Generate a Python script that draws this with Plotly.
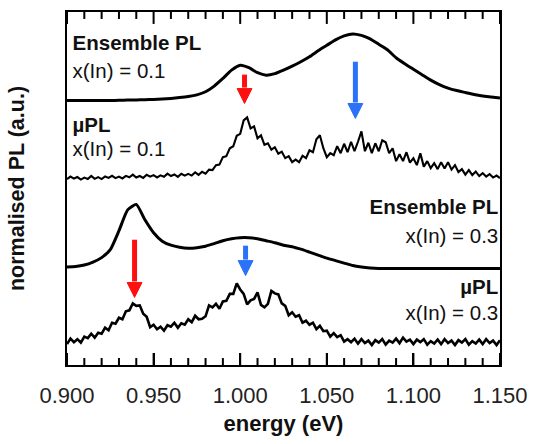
import numpy as np
import plotly.graph_objects as go

# ---------------- data ----------------
# energy grids (eV)
energy_ens = np.round(0.900 + 0.005 * np.arange(51), 3)
energy_mu = np.round(0.900 + 0.002 * np.arange(126), 3)

# Ensemble PL, x(In) = 0.1 (a.u., relative to its baseline)
ens_01 = [0.000, 0.000, 0.000, 0.000, 0.000, 0.000, 0.002, 0.004, 0.006, 0.008,
          0.011, 0.015, 0.021, 0.029, 0.040, 0.057, 0.088, 0.145, 0.222, 0.305,
          0.355, 0.330, 0.280, 0.255, 0.270, 0.305, 0.345, 0.390, 0.440, 0.500,
          0.555, 0.610, 0.650, 0.670, 0.655, 0.620, 0.565, 0.510, 0.430, 0.370,
          0.315, 0.260, 0.205, 0.160, 0.125, 0.100, 0.080, 0.060, 0.045, 0.035,
          0.025]

# Ensemble PL, x(In) = 0.3
ens_03 = [0.015, 0.020, 0.035, 0.065, 0.110, 0.190, 0.380, 0.590, 0.645, 0.490,
          0.360, 0.275, 0.235, 0.215, 0.205, 0.210, 0.225, 0.250, 0.280, 0.300,
          0.310, 0.310, 0.300, 0.280, 0.260, 0.235, 0.220, 0.195, 0.165, 0.135,
          0.105, 0.080, 0.055, 0.030, 0.015, 0.005, 0.000, 0.000, 0.000, 0.000,
          0.000, 0.000, 0.000, 0.000, 0.000, 0.000, 0.000, 0.000, 0.000, 0.000,
          0.000]

# micro-PL, x(In) = 0.1
mu_01 = [-0.010, 0.015, -0.005, 0.010, -0.015, 0.005, -0.010, 0.022, -0.008, 0.009,
         -0.010, 0.016, 0.002, 0.023, -0.001, 0.015, -0.004, 0.022, 0.008, 0.034,
         0.005, 0.021, 0.002, 0.033, 0.014, 0.030, 0.006, 0.027, 0.013, 0.044,
         0.020, 0.036, 0.012, 0.043, 0.025, 0.042, 0.025, 0.058, 0.032, 0.063,
         0.045, 0.085, 0.080, 0.130, 0.135, 0.210, 0.220, 0.300, 0.320, 0.425,
         0.445, 0.580, 0.610, 0.500, 0.520, 0.400, 0.430, 0.335, 0.350, 0.285,
         0.310, 0.245, 0.265, 0.200, 0.220, 0.160, 0.185, 0.160, 0.225, 0.200,
         0.280, 0.260, 0.390, 0.430, 0.300, 0.210, 0.250, 0.230, 0.320, 0.250,
         0.345, 0.260, 0.365, 0.270, 0.365, 0.470, 0.270, 0.355, 0.250, 0.350,
         0.270, 0.380, 0.360, 0.250, 0.300, 0.170, 0.240, 0.170, 0.260, 0.155,
         0.200, 0.130, 0.250, 0.115, 0.170, 0.100, 0.150, 0.090, 0.160, 0.095,
         0.160, 0.085, 0.130, 0.060, 0.090, 0.035, 0.080, 0.030, 0.065, 0.020,
         0.050, 0.015, 0.040, 0.005, 0.025, 0.000]

# micro-PL, x(In) = 0.3
mu_03 = [-0.020, 0.035, 0.000, 0.030, -0.005, 0.055, 0.040, 0.085, 0.045, 0.095,
         0.085, 0.145, 0.120, 0.195, 0.185, 0.245, 0.230, 0.310, 0.320, 0.390,
         0.365, 0.370, 0.285, 0.255, 0.150, 0.175, 0.130, 0.155, 0.115, 0.170,
         0.155, 0.195, 0.145, 0.190, 0.175, 0.230, 0.200, 0.265, 0.230, 0.235,
         0.260, 0.370, 0.350, 0.385, 0.335, 0.410, 0.415, 0.485, 0.485, 0.590,
         0.530, 0.485, 0.380, 0.420, 0.435, 0.500, 0.375, 0.350, 0.385, 0.515,
         0.490, 0.480, 0.390, 0.365, 0.270, 0.300, 0.255, 0.270, 0.195, 0.215,
         0.175, 0.195, 0.130, 0.165, 0.110, 0.115, 0.055, 0.090, 0.050, 0.070,
         0.005, 0.030, 0.000, 0.035, -0.015, 0.030, -0.010, 0.015, -0.030, 0.020,
         -0.005, 0.030, -0.025, 0.015, -0.005, 0.035, -0.010, 0.045, 0.005, 0.025,
         -0.020, 0.025, 0.000, 0.030, -0.025, 0.010, -0.015, 0.025, -0.020, 0.030,
         -0.010, 0.015, -0.030, 0.020, -0.005, 0.030, -0.025, 0.010, -0.015, 0.025,
         -0.020, 0.030, -0.010, 0.015, -0.030, 0.020]

# vertical offsets of the stacked spectra
offsets = {"ens_01": 2.66, "mu_01": 1.88, "ens_03": 0.97, "mu_03": 0.23}

# arrows: (energy, tail y, tip y, colour)
arrows = [
    (1.0025, 2.92, 2.63, "#ff1010"),
    (1.0665, 3.05, 2.48, "#2a72f8"),
    (0.9390, 1.26, 0.68, "#ff1010"),
    (1.0031, 1.20, 0.90, "#2a72f8"),
]

# panel labels: (text, energy, y, side)
left_labels = ["<b>Ensemble PL</b>", "x(In) = 0.1", "<b>µPL</b>", "x(In) = 0.1"]
left_label_y = [3.22, 2.94, 2.39, 2.15]
right_labels = ["<b>Ensemble PL</b>", "x(In) = 0.3", "<b>µPL</b>", "x(In) = 0.3"]
right_label_y = [1.57, 1.28, 0.77, 0.50]

X_RANGE = [0.900, 1.150]
Y_RANGE = [0.0, 3.55]
MAJOR_STEP = 0.05
MINOR_STEP = 0.01
MAJOR_LEN = 0.12   # tick lengths in y units (1 unit = 100 px here)
MINOR_LEN = 0.07
HEAD_HALF_W = 0.0043  # arrow head half width (eV)
HEAD_LEN = 0.15       # arrow head length (y units)

# ---------------- figure ----------------
FONT = "Liberation Sans, Arial, sans-serif"
fig = go.Figure()

# inside tick marks on bottom and top edges
major_vals = np.round(np.arange(X_RANGE[0], X_RANGE[1] + 1e-9, MAJOR_STEP), 3)
minor_vals = np.round(np.arange(X_RANGE[0], X_RANGE[1] + 1e-9, MINOR_STEP), 3)
tx, ty = [], []
for v in minor_vals:
    ln = MAJOR_LEN if np.any(np.isclose(major_vals, v)) else MINOR_LEN
    tx += [float(v), float(v), None, float(v), float(v), None]
    ty += [Y_RANGE[0], Y_RANGE[0] + ln, None, Y_RANGE[1], Y_RANGE[1] - ln, None]
fig.add_trace(go.Scatter(x=tx, y=ty, mode="lines", line=dict(color="black", width=2),
                         connectgaps=False, hoverinfo="skip", showlegend=False))

# spectra
fig.add_trace(go.Scatter(x=energy_ens, y=np.array(ens_01) + offsets["ens_01"], mode="lines",
                         line=dict(color="black", width=3, shape="spline", smoothing=0.5)))
fig.add_trace(go.Scatter(x=energy_mu, y=np.array(mu_01) + offsets["mu_01"], mode="lines",
                         line=dict(color="black", width=2.1)))
fig.add_trace(go.Scatter(x=energy_ens, y=np.array(ens_03) + offsets["ens_03"], mode="lines",
                         line=dict(color="black", width=3, shape="spline", smoothing=0.5)))
fig.add_trace(go.Scatter(x=energy_mu, y=np.array(mu_03) + offsets["mu_03"], mode="lines",
                         line=dict(color="black", width=2.6)))

# arrows (shaft + filled head)
for e, tail, tip, col in arrows:
    base = tip + HEAD_LEN
    fig.add_trace(go.Scatter(x=[e, e], y=[tail, base + 0.01], mode="lines",
                             line=dict(color=col, width=5), hoverinfo="skip"))
    fig.add_trace(go.Scatter(x=[e - HEAD_HALF_W, e + HEAD_HALF_W, e, e - HEAD_HALF_W],
                             y=[base, base, tip, base], mode="lines", fill="toself",
                             fillcolor=col, line=dict(color=col, width=1), hoverinfo="skip"))

# labels
fig.add_trace(go.Scatter(x=[0.9032] * len(left_labels), y=left_label_y, mode="text",
                         text=left_labels, textposition="middle right",
                         textfont=dict(family=FONT, size=20.5, color="#111111"),
                         hoverinfo="skip"))
fig.add_trace(go.Scatter(x=[1.1490] * len(right_labels), y=right_label_y, mode="text",
                         text=right_labels, textposition="middle left",
                         textfont=dict(family=FONT, size=20.5, color="#111111"),
                         hoverinfo="skip"))

fig.update_layout(
    width=538, height=444,
    margin=dict(l=67, r=31, t=10, b=79),
    paper_bgcolor="white", plot_bgcolor="white",
    showlegend=False,
    xaxis=dict(
        range=X_RANGE, dtick=MAJOR_STEP, tickformat=".3f",
        ticks="inside", ticklen=12, tickwidth=2, tickcolor="black",
        showline=True, linewidth=2, linecolor="black", mirror=True,
        gridcolor="white", zerolinecolor="white",
        tickfont=dict(family=FONT, size=22, color="#222222"),
        ticklabelstandoff=10,
        title=dict(text="<b>energy (eV)</b>", standoff=8,
                   font=dict(family=FONT, size=22, color="#111111")),
    ),
    yaxis=dict(
        range=Y_RANGE, showticklabels=False,
        showline=True, linewidth=2, linecolor="black", mirror=True,
        gridcolor="white", zerolinecolor="white",
        title=dict(text="<b>normalised PL (a.u.)</b>", standoff=34,
                   font=dict(family=FONT, size=21.5, color="#111111")),
    ),
)

fig.write_html("out.html", config={"displayModeBar": False},
               post_script="document.body.style.margin='0';")
